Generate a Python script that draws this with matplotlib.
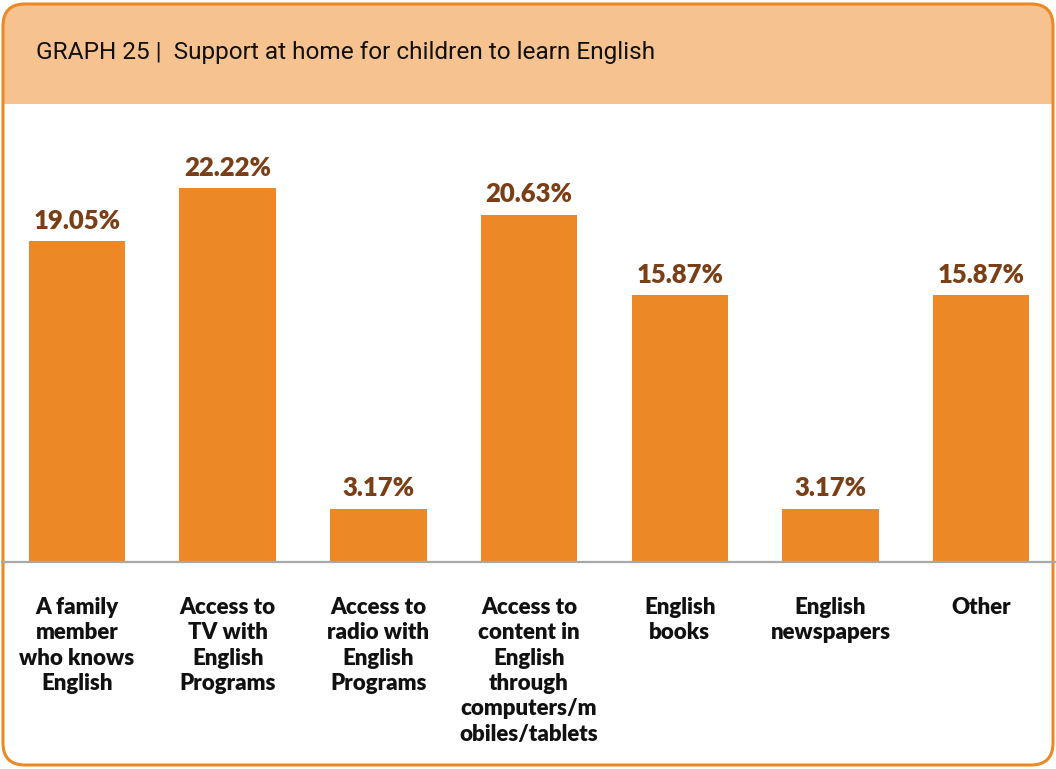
import matplotlib
matplotlib.use("Agg")
import matplotlib.pyplot as plt
from matplotlib.patches import FancyBboxPatch, Rectangle

# Data
categories = [
    "A family\nmember\nwho knows\nEnglish",
    "Access to\nTV with\nEnglish\nPrograms",
    "Access to\nradio with\nEnglish\nPrograms",
    "Access to\ncontent in\nEnglish\nthrough\ncomputers/m\nobiles/tablets",
    "English\nbooks",
    "English\nnewspapers",
    "Other",
]
values = [19.05, 22.22, 3.17, 20.63, 15.87, 3.17, 15.87]
title = "GRAPH 25 |  Support at home for children to learn English"

ORANGE = "#EC8826"
HEADER = "#F6C290"
BROWN = "#7B3F17"
GRID = "#A8A8A8"

W, H = 1056, 769
fig = plt.figure(figsize=(W / 100, H / 100), dpi=100)
fig.patch.set_facecolor("white")

# Rounded frame and header band, drawn in inches
frame = FancyBboxPatch((0.03, 0.04), 10.5, 7.61,
                       boxstyle="round,pad=0,rounding_size=0.22",
                       transform=fig.dpi_scale_trans,
                       facecolor="white", edgecolor="none", zorder=0)
fig.add_artist(frame)
header = Rectangle((0, (H - 104) / 100), W / 100, 1.04,
                   transform=fig.dpi_scale_trans,
                   facecolor=HEADER, edgecolor="none", zorder=0.2)
header.set_clip_path(frame)
fig.add_artist(header)
edge = FancyBboxPatch((0.03, 0.04), 10.5, 7.61,
                      boxstyle="round,pad=0,rounding_size=0.22",
                      transform=fig.dpi_scale_trans,
                      facecolor="none", edgecolor=ORANGE, lw=2.2, zorder=0.3)
fig.add_artist(edge)

fig.text(36 / W, 1 - 52 / H, title, fontsize=17.6, family="Roboto",
         color="#111111", va="center", ha="left")

# Bar chart area
ax = fig.add_axes([1.6 / W, (H - 562) / H, 1055 / W, 442 / H], zorder=1)
ax.patch.set_visible(False)
x = range(len(values))
bars = ax.bar(x, values, width=0.64, color=ORANGE, zorder=2)
ax.set_xlim(-0.5, len(values) - 0.5)
ax.set_ylim(0, 442 / 16.83)
ax.axhline(0, color=GRID, lw=1.6, zorder=3, clip_on=False)

for b, v in zip(bars, values):
    ax.annotate(f"{v:.2f}%", (b.get_x() + b.get_width() / 2, v),
                xytext=(0, 6), textcoords="offset points",
                ha="center", va="bottom", fontsize=18.5, fontweight="heavy",
                family="Lato", color=BROWN)

for s in ax.spines.values():
    s.set_visible(False)
ax.set_yticks([])
ax.set_xticks(list(x))
ax.set_xticklabels(categories, fontsize=16, fontweight="heavy", family="Lato",
                   linespacing=1.26, color="#111111")
ax.tick_params(axis="x", length=0, pad=25)

fig.savefig("out.png", dpi=100)
